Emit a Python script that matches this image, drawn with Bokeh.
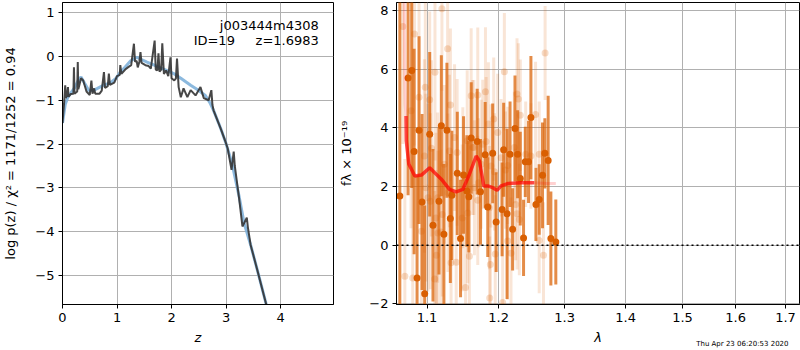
from bokeh.plotting import figure
from bokeh.layouts import row
from bokeh.models import (Range1d, FixedTicker, PrintfTickFormatter, CustomJSTickFormatter,
                          Label, Span, ColumnDataSource, Title)
from bokeh.embed import file_html
from bokeh.resources import INLINE

# ---------------- left panel: log p(z) ----------------
Z_TICKS = [0, 1, 2, 3, 4]
LOGP_TICKS = [-5, -4, -3, -2, -1, 0, 1]

SMOOTH_Z = [0.00, 0.05, 0.10, 0.15, 0.22, 0.30, 0.34, 0.40, 0.48, 0.56, 0.64, 0.75, 0.88, 0.98,
            1.06, 1.15, 1.25, 1.37, 1.45, 1.55, 1.65, 1.80, 1.95, 2.05, 2.17, 2.35, 2.50, 2.62,
            2.70, 2.77, 2.90, 2.99, 3.11, 3.24, 3.33, 3.45, 3.57, 3.72, 3.85, 4.00, 4.50, 4.97]
SMOOTH_LOGP = [-1.52, -1.10, -0.92, -0.84, -0.72, -0.52, -0.47, -0.60, -0.77, -0.78, -0.73, -0.66,
               -0.60, -0.50, -0.36, -0.24, -0.10, -0.02, -0.07, -0.13, -0.18, -0.26, -0.34, -0.40,
               -0.50, -0.66, -0.78, -0.89, -1.05, -1.23, -1.64, -1.95, -2.45, -3.20, -3.80, -4.30,
               -4.86, -5.58, -6.20, -7.00, -9.60, -12.0]

PDF_Z = [0.00, 0.03, 0.05, 0.06, 0.08, 0.10, 0.11, 0.15, 0.20, 0.21, 0.22, 0.27, 0.28, 0.29, 0.34,
         0.38, 0.44, 0.50, 0.53, 0.55, 0.58, 0.60, 0.68, 0.72, 0.76, 0.78, 0.83, 0.85, 0.87, 0.95,
         1.00, 1.05, 1.06, 1.08, 1.15, 1.20, 1.26, 1.31, 1.33, 1.36, 1.38, 1.41, 1.43, 1.45, 1.52,
         1.58, 1.62, 1.69, 1.71, 1.74, 1.76, 1.78, 1.81, 1.83, 1.86, 1.90, 1.94, 1.98, 2.00, 2.05,
         2.08, 2.10, 2.13, 2.17, 2.22, 2.29, 2.35, 2.44, 2.53, 2.59, 2.68, 2.73, 2.75, 2.77, 2.90,
         2.99, 3.03, 3.10, 3.14, 3.16, 3.24, 3.30, 3.38, 3.40, 3.45, 3.57, 3.72, 3.85, 4.00, 4.50,
         4.97]
PDF_LOGP = [-1.52, -1.05, -0.66, -0.95, -0.90, -0.70, -0.92, -0.86, -0.85, -0.25, -0.85, -0.80,
            -0.13, -0.75, -0.50, -0.55, -0.80, -0.88, -0.55, -0.85, -0.73, -0.85, -0.85, -0.78,
            -0.36, -0.72, -0.68, -0.39, -0.65, -0.60, -0.45, -0.42, -0.20, -0.40, -0.30, -0.25,
            -0.20, 0.29, -0.12, -0.10, -0.25, -0.12, 0.10, -0.15, -0.20, -0.22, -0.28, 0.36, -0.30,
            -0.32, 0.07, -0.35, -0.30, 0.30, -0.40, -0.32, -0.45, -0.02, -0.50, -0.55, -0.50, -0.05,
            -0.70, -0.93, -0.73, -0.93, -0.77, -0.89, -0.70, -0.95, -1.00, -0.77, -1.11, -1.23,
            -1.64, -1.95, -2.10, -2.59, -2.17, -2.50, -3.25, -3.88, -3.68, -3.90, -4.30, -4.86,
            -5.58, -6.20, -7.00, -9.60, -12.0]

TITLE_ROOT = "j003444m4308"
TITLE_ID = "ID=19\u00a0\u00a0\u00a0\u00a0\u00a0z=1.6983"
YLABEL_LEFT = "log p(z) / χ² = 1171/1252 = 0.94"

# ---------------- right panel: spectrum ----------------
LAM_TICKS = [1.1, 1.2, 1.3, 1.4, 1.5, 1.6, 1.7]
FLUX_TICKS = [-2, 0, 2, 4, 6, 8]
ZERO_LEVEL = 0

DARK_LAM = [1.0643, 1.0750, 1.0798, 1.0829, 1.0868, 1.0894, 1.0934, 1.0969, 1.1036, 1.1080,
            1.1161, 1.1193, 1.1228, 1.1269, 1.1316, 1.1337, 1.1412, 1.1457, 1.1499, 1.1545,
            1.1573, 1.1606, 1.1691, 1.1738, 1.1805, 1.1842, 1.1913, 1.1963, 1.2050, 1.2073,
            1.2123, 1.2167, 1.2205, 1.2240, 1.2279, 1.2319, 1.2368, 1.2394, 1.2443, 1.2479,
            1.2555, 1.2605, 1.2656, 1.2692, 1.2743, 1.2785, 1.2862]
DARK_FLUX = [1.68, 5.70, 5.95, 3.19, -1.12, 3.92, 1.47, -1.65, 3.78, 0.68, 1.50, 4.07, 0.37, 3.92,
             0.91, 1.70, 2.45, 0.23, 2.39, 1.85, 1.65, 3.65, 3.53, 1.82, 3.08, 1.30, 3.13, 0.79,
             1.22, 3.25, 1.07, 3.10, 0.54, 3.98, 3.10, 2.27, 0.25, 2.84, 2.84, 4.35, 1.39, 1.56,
             2.38, 3.13, 2.89, 0.23, 0.11]
DARK_ERR = [12.0, 4.0, 4.0, 3.5, 3.5, 3.2, 3.0, 3.0, 2.8, 2.6, 2.5, 2.4, 2.4, 2.3, 2.2, 2.2, 2.1,
            2.0, 2.0, 1.9, 1.9, 1.9, 1.8, 1.8, 1.8, 1.7, 1.7, 1.7, 1.6, 1.6, 2.9, 1.8, 1.4, 1.8,
            1.5, 1.6, 1.3, 1.2, 1.4, 2.1, 1.25, 1.2, 1.8, 1.2, 2.2, 1.6, 1.45]

LIGHT_LAM = [1.0682, 1.0708, 1.0789, 1.0811, 1.0834, 1.0894, 1.0926, 1.0965, 1.0977, 1.0985,
             1.1013, 1.1036, 1.1045, 1.1059, 1.1103, 1.1107, 1.1120, 1.1126, 1.1143, 1.1147,
             1.1188, 1.1201, 1.1206, 1.1234, 1.1279, 1.1283, 1.1304, 1.1317, 1.1326, 1.1374,
             1.1397, 1.1410, 1.1481, 1.1489, 1.1527, 1.1550, 1.1558, 1.1581, 1.1606, 1.1625,
             1.1643, 1.1652, 1.1699, 1.1699, 1.1710, 1.1748, 1.1770, 1.1809, 1.1818, 1.1851,
             1.1865, 1.1870, 1.1879, 1.1889, 1.1928, 1.1938, 1.1950, 1.1986, 1.2035, 1.2058,
             1.2083, 1.2100, 1.2131, 1.2131, 1.2181, 1.2230, 1.2250, 1.2270, 1.2270, 1.2290,
             1.2305, 1.2319, 1.2400, 1.2479, 1.2550, 1.2605, 1.2605, 1.2671, 1.2696]
LIGHT_FLUX = [7.45, -1.06, 4.58, -1.12, 7.20, 5.04, 0.48, 3.04, 5.38, 1.96, 1.62, 4.96, 1.50, 3.30,
              -1.15, 5.89, 0.93, -0.34, 1.62, 0.42, 0.45, 8.06, 1.05, 2.76, 6.69, 1.79, 3.21, 4.78,
              -0.60, 3.67, -0.58, 3.16, 0.93, 2.30, -1.44, 3.56, 1.10, -0.38, 5.09, 3.33, 3.33,
              1.96, 5.12, 1.53, 2.13, 2.76, 3.44, 5.23, 3.53, 4.13, 1.28, -1.80, -0.66, 2.70, 4.30,
              2.50, -0.30, 3.84, 2.98, -1.95, 5.91, 2.56, 2.72, 0.14, -0.27, 3.33, 1.39, 5.15, 1.07,
              4.98, 0.88, 4.43, 3.10, 3.04, 4.45, 3.10, 0.16, -0.34, 6.55]
LIGHT_ERR = [4.0, 4.0, 4.0, 3.8, 3.8, 3.5, 3.5, 3.3, 3.3, 3.2, 3.2, 3.0, 3.0, 3.0, 3.0, 3.0, 2.9,
             2.9, 2.9, 2.8, 2.8, 2.8, 2.8, 2.7, 2.7, 2.7, 2.6, 2.6, 2.6, 2.5, 2.5, 2.5, 2.5, 2.4,
             2.4, 2.4, 2.4, 2.4, 2.3, 2.3, 2.3, 2.3, 2.3, 2.2, 2.2, 2.2, 2.2, 2.2, 2.2, 2.1, 2.1,
             2.1, 2.1, 2.1, 2.1, 2.0, 2.0, 2.0, 2.0, 2.0, 2.0, 2.0, 2.0, 2.0, 1.9, 1.9, 1.9, 1.9,
             1.9, 1.9, 1.9, 1.9, 1.8, 1.8, 1.8, 1.8, 1.8, 1.8, 1.6]

MODEL_LAM = [1.0723, 1.0727, 1.0759, 1.0838, 1.0926, 1.1036, 1.1103, 1.1193, 1.1304,
             1.1397, 1.1489, 1.1581, 1.1677, 1.1723, 1.1785, 1.1842, 1.1913, 1.1977, 1.2035,
             1.2131, 1.2330, 1.2529]
MODEL_FLUX = [4.40, 3.56, 2.77, 2.36, 2.39, 2.64, 2.47, 2.25, 1.90, 1.82, 1.90, 2.42, 3.04,
              2.87, 2.02, 2.02, 1.96, 1.87, 2.02, 2.10, 2.13, 2.13]

MODEL2_LAM = [1.0700, 1.0705, 1.0712, 1.0722, 1.0727, 1.0759, 1.0838, 1.0926, 1.1036, 1.1103,
              1.1193, 1.1304, 1.1397, 1.1489, 1.1581, 1.1677, 1.1723, 1.1785, 1.1842, 1.1913,
              1.1977, 1.2035, 1.2131, 1.2330, 1.2529, 1.2732, 1.2862]
MODEL2_FLUX = [8.50, 6.00, 4.80, 4.40, 3.56, 2.77, 2.36, 2.39, 2.64, 2.47, 2.25, 1.90, 1.82, 1.90,
               2.42, 3.04, 2.87, 2.02, 2.02, 1.96, 1.87, 2.02, 2.10, 2.13, 2.13, 2.10, 2.10]

TIMESTAMP = "Thu Apr 23 06:20:53 2020"

FONT = "DejaVu Sans"
ORANGE = "#d95f02"

minus_fmt = CustomJSTickFormatter(code="return tick < 0 ? '\\u2212' + (-tick) : '' + tick;")


def style(p):
    p.outline_line_color = "black"
    p.outline_line_width = 1
    p.outline_line_alpha = 1
    p.background_fill_color = "white"
    p.border_fill_color = "white"
    for ax in p.axis:
        ax.axis_line_color = "black"
        ax.major_tick_line_color = "black"
        ax.minor_tick_line_color = None
        ax.major_tick_out = 4
        ax.major_tick_in = 0
        ax.major_label_text_font = FONT
        ax.major_label_text_font_size = "13px"
        ax.major_label_text_color = "black"
        ax.axis_label_text_font = FONT
        ax.axis_label_text_font_size = "13px"
        ax.axis_label_text_font_style = "normal"
        ax.axis_label_text_color = "black"
        ax.major_label_standoff = 4
    p.grid.grid_line_color = "#b0b0b0"
    p.grid.grid_line_width = 1


# ---------- left figure ----------
p1 = figure(width=336, height=350, x_range=Range1d(0, 4.97), y_range=Range1d(-5.66, 1.23),
            output_backend="svg", toolbar_location=None,
            min_border_left=62, min_border_right=3, min_border_top=2, min_border_bottom=46)
p1.xaxis.ticker = FixedTicker(ticks=Z_TICKS)
p1.yaxis.ticker = FixedTicker(ticks=LOGP_TICKS)
p1.yaxis.formatter = minus_fmt
p1.xaxis.axis_label = "z"
p1.yaxis.axis_label = YLABEL_LEFT
style(p1)
p1.xaxis.axis_label_text_font_style = "italic"
p1.xaxis.axis_label_standoff = 5
p1.yaxis.axis_label_standoff = 14

p1.line(SMOOTH_Z, SMOOTH_LOGP, line_color="#7fb1da", line_width=3, line_alpha=0.9)
p1.line(PDF_Z, PDF_LOGP, line_color="#333333", line_width=2, line_alpha=0.9)

p1.add_layout(Label(x=4.70, y=0.70, text=TITLE_ROOT, text_align="right",
                    text_baseline="alphabetic", text_font=FONT, text_font_size="13px",
                    text_color="black"))
p1.add_layout(Label(x=4.70, y=0.36, text=TITLE_ID, text_align="right",
                    text_baseline="alphabetic", text_font=FONT, text_font_size="13px",
                    text_color="black"))

# ---------- right figure ----------
p2 = figure(width=464, height=350, x_axis_type="log", x_range=Range1d(1.06, 1.729),
            y_range=Range1d(-2.02, 8.27), output_backend="svg", toolbar_location=None,
            min_border_left=56, min_border_right=1, min_border_top=2, min_border_bottom=46)
p2.xaxis.ticker = FixedTicker(ticks=LAM_TICKS)
p2.xaxis.formatter = PrintfTickFormatter(format="%.1f")
p2.yaxis.ticker = FixedTicker(ticks=FLUX_TICKS)
p2.yaxis.formatter = minus_fmt
p2.xaxis.axis_label = "λ"
p2.yaxis.axis_label = "fλ × 10⁻¹⁹"
style(p2)
p2.xaxis.axis_label_text_font_style = "italic"
p2.xaxis.axis_label_standoff = 5
p2.yaxis.axis_label_standoff = 12

light = ColumnDataSource(dict(
    lam=LIGHT_LAM, flux=LIGHT_FLUX,
    lo=[f - e for f, e in zip(LIGHT_FLUX, LIGHT_ERR)],
    hi=[f + e for f, e in zip(LIGHT_FLUX, LIGHT_ERR)]))
dark = ColumnDataSource(dict(
    lam=DARK_LAM, flux=DARK_FLUX,
    lo=[f - e for f, e in zip(DARK_FLUX, DARK_ERR)],
    hi=[f + e for f, e in zip(DARK_FLUX, DARK_ERR)]))

p2.segment(x0="lam", y0="lo", x1="lam", y1="hi", source=light, line_color=ORANGE,
           line_width=3, line_alpha=0.16)
p2.scatter("lam", "flux", source=light, size=7, fill_color=ORANGE, fill_alpha=0.22,
           line_color=None)
p2.segment(x0="lam", y0="lo", x1="lam", y1="hi", source=dark, line_color=ORANGE,
           line_width=3, line_alpha=0.72)
p2.scatter("lam", "flux", source=dark, size=7, fill_color=ORANGE, fill_alpha=1.0,
           line_color=None)

p2.line(MODEL2_LAM, MODEL2_FLUX, line_color="red", line_width=3, line_alpha=0.18)
p2.line(MODEL_LAM, MODEL_FLUX, line_color="red", line_width=3.5, line_alpha=0.65)

p2.add_layout(Span(location=ZERO_LEVEL, dimension="width", line_color="black",
                   line_dash="2 3", line_width=1.6))

stamp = Title(text=TIMESTAMP, align="right", vertical_align="top", offset=11, standoff=-15,
              text_font=FONT, text_font_size="7px", text_font_style="normal",
              text_color="black")
p2.add_layout(stamp, "below")

layout = row(p1, p2)
open("out.html", "w").write(file_html(layout, INLINE))
